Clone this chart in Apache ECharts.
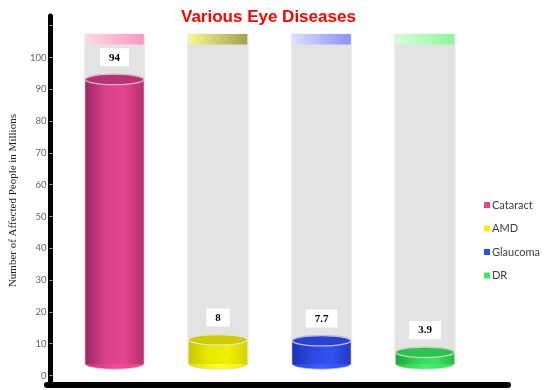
<!DOCTYPE html>
<html><head><meta charset="utf-8">
<script src="https://cdn.jsdelivr.net/npm/echarts@6/dist/echarts.min.js"></script>
<style>html,body{margin:0;padding:0;background:#fff}#c{width:551px;height:390px}</style>
</head><body><div id="c"></div>
<script>
// ---- data ----
const categories = ['Cataract', 'AMD', 'Glaucoma', 'DR'];
const values = [94, 8, 7.7, 3.9];
const yTickMax = 100;
const titleText = 'Various Eye Diseases';
const yAxisName = 'Number of Affected People in Millions';

// ---- styles ----
const styles = [
  { legend: '#e8448f', body: ['#9a2a60', '#d8408a', '#e2468e', '#b4306e'], bottom: ['#c03a78', '#f24c96', '#e8468e'], top: '#b83274', rim: '#d8b4c6', cap: ['#fdd8e6', '#fb98bf'] },
  { legend: '#f2f200', body: ['#c8c800', '#e8e800', '#f0f000', '#d6d400'], bottom: ['#e0e000', '#ffff30', '#f0f000'], top: '#cfcb00', rim: '#e4e4c8', cap: ['#f8f890', '#a2a052'] },
  { legend: '#3050f4', body: ['#1c32b8', '#2c48e2', '#3252f0', '#2238c6'], bottom: ['#2a44d8', '#3c5cff', '#3050ee'], top: '#2a42d2', rim: '#b8bedc', cap: ['#dcdffc', '#8a92f8'] },
  { legend: '#3ee862', body: ['#1ea63c', '#34d456', '#3ee262', '#26b846'], bottom: ['#2cc04c', '#48f06a', '#3ada5c'], top: '#2ec24e', rim: '#bcdcc4', cap: ['#d8fcdc', '#8af89a'] }
];

function grad(cols) {
  const n = cols.length;
  return new echarts.graphic.LinearGradient(0, 0, 1, 0, cols.map((c, i) => ({ offset: i / (n - 1), color: c })));
}

function renderItem(params, api) {
  const ci = api.value(0);
  const v = api.value(1);
  const top = api.coord([ci, v]);
  const base = api.coord([ci, 0]);
  const w = api.size([1, 0])[0] * 0.565;
  const cx = top[0];
  const x0 = cx - w / 2;
  const gridTop = params.coordSys.y;
  const ry = 5.2;
  const st = styles[ci];
  return {
    type: 'group',
    children: [
      { type: 'rect', shape: { x: x0 - 1, y: gridTop, width: w + 2, height: base[1] - gridTop }, style: { fill: '#e3e3e3', stroke: '#ededed', lineWidth: 1 } },
      { type: 'rect', shape: { x: x0, y: gridTop, width: w, height: 10.5 }, style: { fill: grad(st.cap) } },
      { type: 'ellipse', shape: { cx: cx, cy: base[1], rx: w / 2, ry: ry }, style: { fill: grad(st.bottom), stroke: '#d4d4d4', lineWidth: 0.8 } },
      { type: 'rect', shape: { x: x0, y: top[1], width: w, height: base[1] - top[1] }, style: { fill: grad(st.body) } },
      { type: 'ellipse', shape: { cx: cx, cy: top[1], rx: w / 2, ry: ry }, style: { fill: st.top, stroke: st.rim, lineWidth: 1.3 } },
      { type: 'text', x: cx, y: top[1] - ry - 8,
        style: { text: String(v), fill: '#000', font: 'bold 11px "Liberation Serif"', align: 'center', verticalAlign: 'bottom',
                 backgroundColor: '#ffffff', padding: [4, 9, 3, 9] } }
    ]
  };
}

const chart = echarts.init(document.getElementById('c'), null, { renderer: 'canvas' });

const series = categories.map((name, i) => ({
  name: name,
  type: 'custom',
  xAxisIndex: 2,
  yAxisIndex: 2,
  renderItem: renderItem,
  itemStyle: { color: styles[i].legend },
  encode: { x: 0, y: 1 },
  data: [[i, values[i]]],
  z: 3
}));

chart.setOption({
  animation: false,
  title: {
    text: titleText, left: 176, top: 4,
    textStyle: { color: '#ff0000', fontSize: 17, fontWeight: 'bold', fontFamily: '"Liberation Sans", Arial, sans-serif' }
  },
  legend: {
    data: categories, orient: 'vertical', left: 479, top: 193,
    itemWidth: 6, itemHeight: 6, itemGap: 9.5, icon: 'rect',
    textStyle: { fontFamily: 'Lato, sans-serif', fontSize: 11, color: '#404040', lineHeight: 14, padding: [0, 0, 0, -3] }
  },
  grid: [
    { left: 47, right: 43, top: 16, bottom: 5 },
    { left: 48, right: 43, top: 25.7, bottom: 14.5 },
    { left: 62.75, right: 74.25, top: 34, bottom: 26 }
  ],
  xAxis: [
    { gridIndex: 0, type: 'category', data: categories, axisLine: { show: true, lineStyle: { color: '#000', width: 6 } }, axisTick: { show: false }, axisLabel: { show: false } },
    { gridIndex: 1, type: 'category', data: categories, show: false },
    { gridIndex: 2, type: 'category', data: categories, show: false }
  ],
  yAxis: [
    { gridIndex: 0, type: 'value', min: 0, max: 1, offset: -3.5, axisLine: { show: true, lineStyle: { color: '#000', width: 5 } }, axisTick: { show: false }, axisLabel: { show: false }, splitLine: { show: false } },
    { gridIndex: 1, type: 'value', min: 0, max: 110, interval: 10,
      axisLine: { show: false }, splitLine: { show: false },
      axisTick: { show: true, length: 3, lineStyle: { color: '#a0a0a0' } },
      axisLabel: { margin: 6, color: '#666666', fontSize: 9.5, fontFamily: 'Lato, sans-serif', formatter: v => (v > yTickMax ? '' : String(v)) },
      name: yAxisName, nameLocation: 'middle', nameGap: 30,
      nameTextStyle: { fontFamily: '"Liberation Serif", serif', fontSize: 11, fontWeight: 'normal', color: '#222222' } },
    { gridIndex: 2, type: 'value', min: 0, max: 109, show: false }
  ],
  series: series
});
</script>
</body></html>
